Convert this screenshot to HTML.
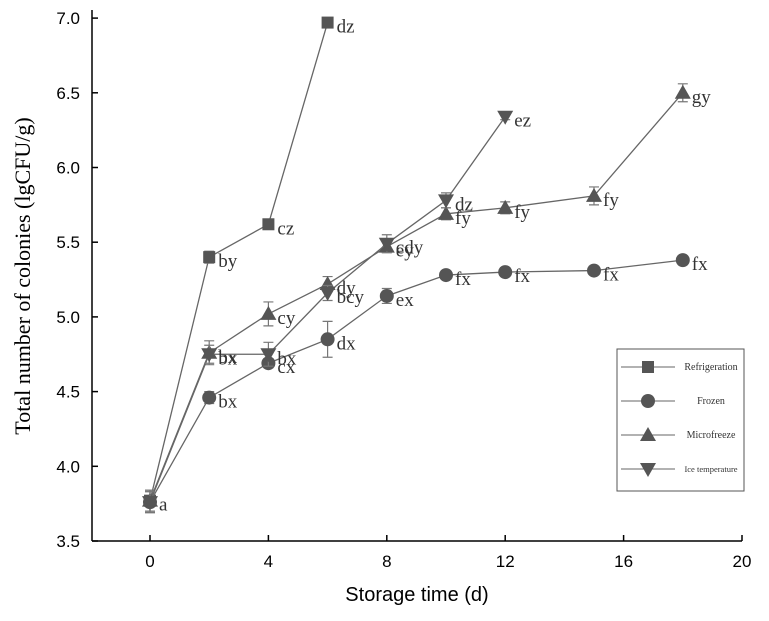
<!DOCTYPE html>
<html><head><meta charset="utf-8"><style>
body{margin:0;background:#fff;font-family:"Liberation Serif",serif;}
</style></head><body>
<svg id="chart" width="769" height="616" xmlns="http://www.w3.org/2000/svg"></svg>
<script>
const days=[0,2,4,6,8,10,12,15,18];
const refrigeration=[3.77,5.40,5.62,6.97];
const refrigerationErr=[0.07,0.04,0.02,0.02];
const refrigerationLbl=["a","by","cz","dz"];
const frozen=[3.76,4.46,4.69,4.85,5.14,5.28,5.30,5.31,5.38];
const frozenErr=[0.07,0.04,0.03,0.12,0.05,0.02,0.03,0.02,0.02];
const frozenLbl=["","bx","cx","dx","ex","fx","fx","fx","fx"];
const microfreeze=[3.77,4.76,5.02,5.22,5.47,5.69,5.73,5.81,6.50];
const microfreezeErr=[0.07,0.08,0.08,0.05,0.04,0.04,0.04,0.06,0.06];
const microfreezeLbl=["","bx","cy","dy","ey","fy","fy","fy","gy"];
const iceTemp=[3.76,4.75,4.75,5.16,5.49,5.78,6.34];
const iceTempErr=[0.07,0.06,0.08,0.05,0.06,0.05,0.02];
const iceTempLbl=["","bx","bx","bcy","cdy","dz","ez"];
const xTicks=[0,4,8,12,16,20];
const yTicks=[3.5,4.0,4.5,5.0,5.5,6.0,6.5,7.0];

const svg=document.getElementById('chart');
const NS="http://www.w3.org/2000/svg";
const X=d=>150+d*29.6;
const Y=v=>541-(v-3.5)*149.4;
function mk(t,a,p){const e=document.createElementNS(NS,t);for(const k in a)e.setAttribute(k,a[k]);(p||svg).appendChild(e);return e;}
const SANS='"Liberation Sans", sans-serif';
let ax=mk('line',{x1:92,y1:541,x2:742,y2:541,stroke:'#000','stroke-width':1.5});

let ay=mk('line',{x1:92,y1:10,x2:92,y2:541,stroke:'#000','stroke-width':1.5});

xTicks.forEach(t=>{mk('line',{x1:X(t),y1:541,x2:X(t),y2:535,stroke:'#000','stroke-width':1.5});
 const tx=mk('text',{x:X(t),y:567,'text-anchor':'middle','font-size':17,'font-family':SANS});tx.textContent=t;
 });
yTicks.forEach(t=>{mk('line',{x1:92,y1:Y(t),x2:98,y2:Y(t),stroke:'#000','stroke-width':1.5});
 const tx=mk('text',{x:80,y:Y(t)+6,'text-anchor':'end','font-size':17,'font-family':SANS});tx.textContent=t.toFixed(1);
 });
let xt=mk('text',{x:417,y:601,'text-anchor':'middle','font-size':20,'font-family':SANS});xt.textContent='Storage time (d)';

let yt=mk('text',{x:0,y:0,'text-anchor':'middle','font-size':22,transform:'translate(30,276) rotate(-90)'});yt.textContent='Total number of colonies (lgCFU/g)';


function marker(kind,x,y,g){
 const c='#555';
 if(kind==='sq')return mk('rect',{x:x-6,y:y-6,width:12,height:12,fill:c},g);
 if(kind==='ci')return mk('circle',{cx:x,cy:y,r:7,fill:c},g);
 if(kind==='up')return mk('polygon',{points:`${x},${y-8} ${x-8},${y+6} ${x+8},${y+6}`,fill:c},g);
 return mk('polygon',{points:`${x},${y+8} ${x-8},${y-6} ${x+8},${y-6}`,fill:c},g);
}
const series=[[refrigeration,refrigerationErr,refrigerationLbl,'sq','refrigeration'],[frozen,frozenErr,frozenLbl,'ci','frozen'],[microfreeze,microfreezeErr,microfreezeLbl,'up','microfreeze'],[iceTemp,iceTempErr,iceTempLbl,'dn','ice-temperature']];
series.forEach(([vals,errs,lbls,kind,name])=>{
 const g=mk('g',{});
 const pts=vals.map((v,i)=>X(days[i])+','+Y(v)).join(' ');
 mk('polyline',{points:pts,fill:'none',stroke:'#666','stroke-width':1.3},g);
 vals.forEach((v,i)=>{
  const x=X(days[i]),y=Y(v),e=errs[i]*149.4;
  mk('path',{d:`M${x},${y-e}V${y+e}M${x-5},${y-e}H${x+5}M${x-5},${y+e}H${x+5}`,stroke:'#777','stroke-width':1.2,fill:'none'},g);
  const m=marker(kind,x,y,g);
  
  if(lbls[i]){const t=mk('text',{x:x+9,y:y+10,'font-size':19,fill:'#333'},g);t.textContent=lbls[i];
  }
 });
});
const lg=mk('g',{});
mk('rect',{x:617,y:349,width:127,height:142,fill:'#fff',stroke:'#555','stroke-width':1},lg);
const lgNames=['Refrigeration','Frozen','Microfreeze','Ice temperature'];
const lgKinds=['sq','ci','up','dn'];
lgNames.forEach((n,i)=>{
 const y=367+i*34;
 const e=mk('g',{},lg);
 mk('line',{x1:621,y1:y,x2:675,y2:y,stroke:'#666'},e);
 marker(lgKinds[i],648,y,e);
 const t=mk('text',{x:711,y:y+3,'text-anchor':'middle','font-size':i===3?8.5:10,fill:'#333'},e);t.textContent=n;
});
</script>
</body></html>
